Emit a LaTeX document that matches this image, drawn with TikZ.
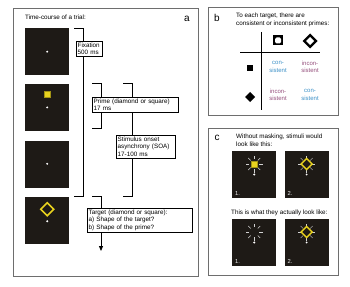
\documentclass[tikz,border=0pt]{standalone}
\usepackage{fontspec}
\setmainfont{Liberation Sans}
\usetikzlibrary{positioning, calc, arrows.meta}
\definecolor{ScreenColor}{RGB}{30,26,22}
\definecolor{PrimeColor}{RGB}{232,210,30}
\definecolor{ConColor}{RGB}{60,145,200}
\definecolor{InconColor}{RGB}{150,80,125}
\definecolor{FrameColor}{RGB}{110,110,110}
\tikzset{
    panel/.style={draw=FrameColor, line width=0.8pt},
    screen/.style={
        rectangle,
        fill=ScreenColor,
        minimum width=44pt,
        minimum height=47pt,
        inner sep=0pt,
        anchor=north west
    },
    info/.style={
        rectangle,
        draw=black,
        fill=white,
        line width=0.5pt,
        align=left,
        inner sep=1.4pt,
        anchor=north west,
        font=\fontsize{6.3}{7.6}\selectfont
    },
    caption/.style={anchor=west, align=left, inner sep=0pt, font=\fontsize{6.3}{8}\selectfont},
    letter/.style={inner sep=0pt, font=\fontsize{10}{12}\selectfont},
    cell/.style={align=center, inner sep=0pt, font=\fontsize{6}{7.6}\selectfont},
    bracket/.style={draw=black, line width=0.8pt},
    fixdot/.style={circle, fill=white, inner sep=0pt, minimum size=2.2pt},
    ray/.style={draw=white!65!gray, line width=0.45pt},
    primesq/.style={rectangle, fill=PrimeColor, draw=PrimeColor!70!black, line width=0.3pt, inner sep=0pt, minimum size=6pt},
    number/.style={anchor=south west, inner sep=0pt, text=white!85!gray, font=\fontsize{5.8}{6}\selectfont}
}

\begin{document}
\begin{tikzpicture}[x=1pt, y=-1pt]

\useasboundingbox[fill=white] (0,0) rectangle (350,286);

% Panels
\draw[panel] (13,8) rectangle (198,276);
\draw[panel] (208,7) rectangle (338,115);
\draw[panel] (208,128) rectangle (338,275);

\node[letter] (l_a) at (187,19) {a};
\node[letter] (l_b) at (217,18) {b};
\node[letter] (l_c) at (217,138) {c};

%%% Panel a: time-course
\node[caption] (t_a) at (25,17) {Time-course of a trial:};

\node[screen] (s1) at (25,28) {};
\node[screen, below=8pt of s1] (s2) {};
\node[screen, below=10pt of s2] (s3) {};
\node[screen, below=9pt of s3] (s4) {};

% Stimuli
\node[fixdot] (d1) at (s1.center) {};
\node[primesq] (p2) at ($(s2.north)+(0,11)$) {};
\node[fixdot] (d2) at ($(s2.north)+(0,24)$) {};
\node[fixdot] (d3) at ($(s3.north)+(0,23)$) {};
\coordinate (p4) at ($(s4.north)+(0,12)$);
\draw[PrimeColor, line width=1.6pt] ($(p4)+(0,-6.5)$) -- ($(p4)+(6.5,0)$) -- ($(p4)+(0,6.5)$) -- ($(p4)+(-6.5,0)$) -- cycle;
\node[fixdot] (d4) at ($(s4.north)+(0,24)$) {};

% Brackets
\coordinate (fix_top) at (74,28);
\coordinate (fix_bot) at (74,196);
\draw[bracket] (fix_top) -- ++(9,0) |- (fix_bot);

\coordinate (prime_top) at (92,83);
\coordinate (prime_bot) at (92,128);
\draw[bracket] (prime_top) -- ++(9,0) |- (prime_bot);

\coordinate (soa_top) at (123,83);
\coordinate (soa_bot) at (123,196);
\draw[bracket] (soa_top) -- ++(9,0) |- (soa_bot);

\coordinate (target_top) at (92,196);
\coordinate (target_end) at (101,251);
\draw[bracket, -{Triangle[length=5pt, width=4pt]}] (target_top) -| (target_end);

% Labels
\node[info, text width=23pt] (n_fix) at (76,41) {Fixation\\500 ms};
\node[info, text width=83pt] (n_prime) at (92,97) {Prime (diamond or square)\\17 ms};
\node[info, text width=56pt] (n_soa) at (116,135) {Stimulus onset\\asynchrony (SOA)\\17-100 ms};
\node[info, text width=102pt] (n_target) at (87,208) {Target (diamond or square):\\a) Shape of the target?\\b) Shape of the prime?};

%%% Panel b: consistency table
\node[caption] (t_b) at (236,20) {To each target, there are\\consistent or inconsistent primes:};

\coordinate (tab_top) at (261,32);
\coordinate (tab_bot) at (261,110);
\coordinate (tab_left) at (240,52);
\coordinate (tab_right) at (320,52);
\draw[line width=0.6pt] (tab_top) -- (tab_bot);
\draw[line width=0.6pt] (tab_left) -- (tab_right);

% Header targets
\node[rectangle, fill=black, inner sep=0pt, minimum size=10pt] (h_sq) at (278,40.5) {};
\node[rectangle, fill=white, rounded corners=1.5pt, inner sep=0pt, minimum size=6pt] at (h_sq) {};
\coordinate (h_dia) at (310,41);
\fill[black] ($(h_dia)+(0,-7.5)$) -- ($(h_dia)+(7.5,0)$) -- ($(h_dia)+(0,7.5)$) -- ($(h_dia)+(-7.5,0)$) -- cycle;
\fill[white] ($(h_dia)+(0,-4)$) -- ($(h_dia)+(4,0)$) -- ($(h_dia)+(0,4)$) -- ($(h_dia)+(-4,0)$) -- cycle;

% Row primes
\node[rectangle, fill=black, inner sep=0pt, minimum size=6pt] (r_sq) at (250,68) {};
\coordinate (r_dia) at (250,97);
\fill[black] ($(r_dia)+(0,-5)$) -- ($(r_dia)+(5,0)$) -- ($(r_dia)+(0,5)$) -- ($(r_dia)+(-5,0)$) -- cycle;

% Cells
\node[cell, text=ConColor] (c11) at (278,67) {con-\\sistent};
\node[cell, text=InconColor] (c12) at (310,67) {incon-\\sistent};
\node[cell, text=InconColor] (c21) at (278,95) {incon-\\sistent};
\node[cell, text=ConColor] (c22) at (310,95) {con-\\sistent};

%%% Panel c: masking
\node[caption] (t_c1) at (236,140) {Without masking, stimuli would\\look like this:};
\node[caption] (t_c2) at (231,212.5) {This is what they actually look like:};

\node[screen] (m1) at (232,151) {};
\node[screen, right=8pt of m1] (m2) {};
\node[screen] (m3) at (232,219) {};
\node[screen, right=8pt of m3] (m4) {};

\foreach \m/\n in {m1/1., m2/2., m3/1., m4/2.}
    \node[number] at ($(\m.south west)+(3,-3)$) {\n};

\foreach \m in {m1, m2, m3, m4} {
    \coordinate (\m c) at ($(\m.north)+(0,13)$);
    \node[fixdot] at ($(\m.north)+(0,23.5)$) {};
    \foreach \ang in {0,45,...,315}
        \draw[ray] ($(\m c)+(\ang:5pt)$) -- ($(\m c)+(\ang:8.5pt)$);
}

\node[primesq] (q1) at (m1c) {};
\foreach \m in {m2, m4}
    \draw[PrimeColor, line width=1.4pt] ($(\m c)+(0,-5.5)$) -- ($(\m c)+(5.5,0)$) -- ($(\m c)+(0,5.5)$) -- ($(\m c)+(-5.5,0)$) -- cycle;

\end{tikzpicture}
\end{document}
